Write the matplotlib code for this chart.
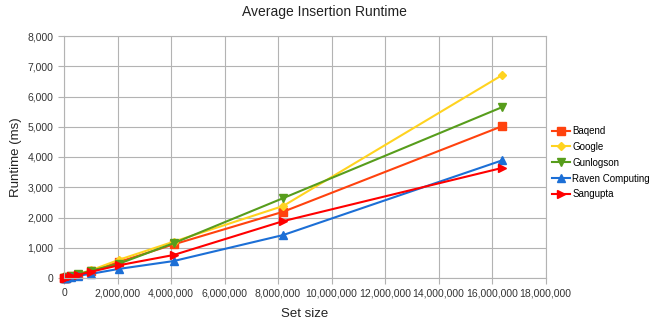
import matplotlib
matplotlib.use("Agg")
import matplotlib.pyplot as plt
from matplotlib.ticker import FuncFormatter, MultipleLocator

plt.rcParams['font.family'] = ['Liberation Sans', 'DejaVu Sans']

set_sizes = [16000, 32000, 64000, 128000, 256000, 512000, 1024000,
             2048000, 4096000, 8192000, 16384000]

baqend = [5, 9, 15, 30, 60, 115, 235, 530, 1110, 2190, 5020]
google = [5, 10, 17, 33, 66, 130, 260, 600, 1200, 2380, 6710]
gunlogson = [5, 9, 16, 31, 62, 120, 245, 470, 1150, 2640, 5650]
raven = [3, 6, 10, 18, 38, 75, 140, 300, 560, 1420, 3890]
sangupta = [4, 8, 13, 26, 52, 100, 210, 420, 760, 1880, 3640]

series = [
    ("Baqend", baqend, "#ff420e", "s"),
    ("Google", google, "#ffd320", "D"),
    ("Gunlogson", gunlogson, "#579d1c", "v"),
    ("Raven Computing", raven, "#1c6fd6", "^"),
    ("Sangupta", sangupta, "#ff0000", ">"),
]

fig = plt.figure(figsize=(6.52, 3.25), dpi=100)
ax = fig.add_axes([64 / 652, 1 - 278 / 325, (545.5 - 64) / 652, (278 - 36) / 325])

for name, vals, color, marker in series:
    ms = 4.5 if marker == "D" else 5.2
    ax.plot(set_sizes, vals, color=color, marker=marker, markersize=ms,
            linewidth=1.5, label=name, clip_on=False)

ax.set_xlim(0, 18000000)
ax.set_ylim(0, 8000)
ax.xaxis.set_major_locator(MultipleLocator(2000000))
ax.yaxis.set_major_locator(MultipleLocator(1000))
fmt = FuncFormatter(lambda v, p: f"{int(round(v)):,}")
ax.xaxis.set_major_formatter(fmt)
ax.yaxis.set_major_formatter(fmt)

ax.grid(True, color="#b3b3b3", linewidth=0.8)
ax.set_axisbelow(True)
for s in ax.spines.values():
    s.set_color("#b3b3b3")
    s.set_linewidth(0.8)
ax.tick_params(axis="both", colors="#b3b3b3", labelcolor="#333333",
               labelsize=7.5, length=4, width=0.8)

# chart title is centred on the whole figure
fig.text(324 / 652, 1 - 12 / 325, "Average Insertion Runtime", fontsize=10,
         color="#222222", ha="center", va="center")
ax.set_xlabel("Set size", fontsize=9.5, color="#222222", labelpad=7)
ax.set_ylabel("Runtime (ms)", fontsize=9.5, color="#222222", labelpad=4)

fig.legend(loc="upper left", bbox_to_anchor=(552 / 652, 1 - 126 / 325),
           frameon=False, fontsize=7, handlelength=1.9, handletextpad=0.2,
           labelspacing=0.6, borderaxespad=0, borderpad=0)

fig.savefig("out.png", dpi=100)
